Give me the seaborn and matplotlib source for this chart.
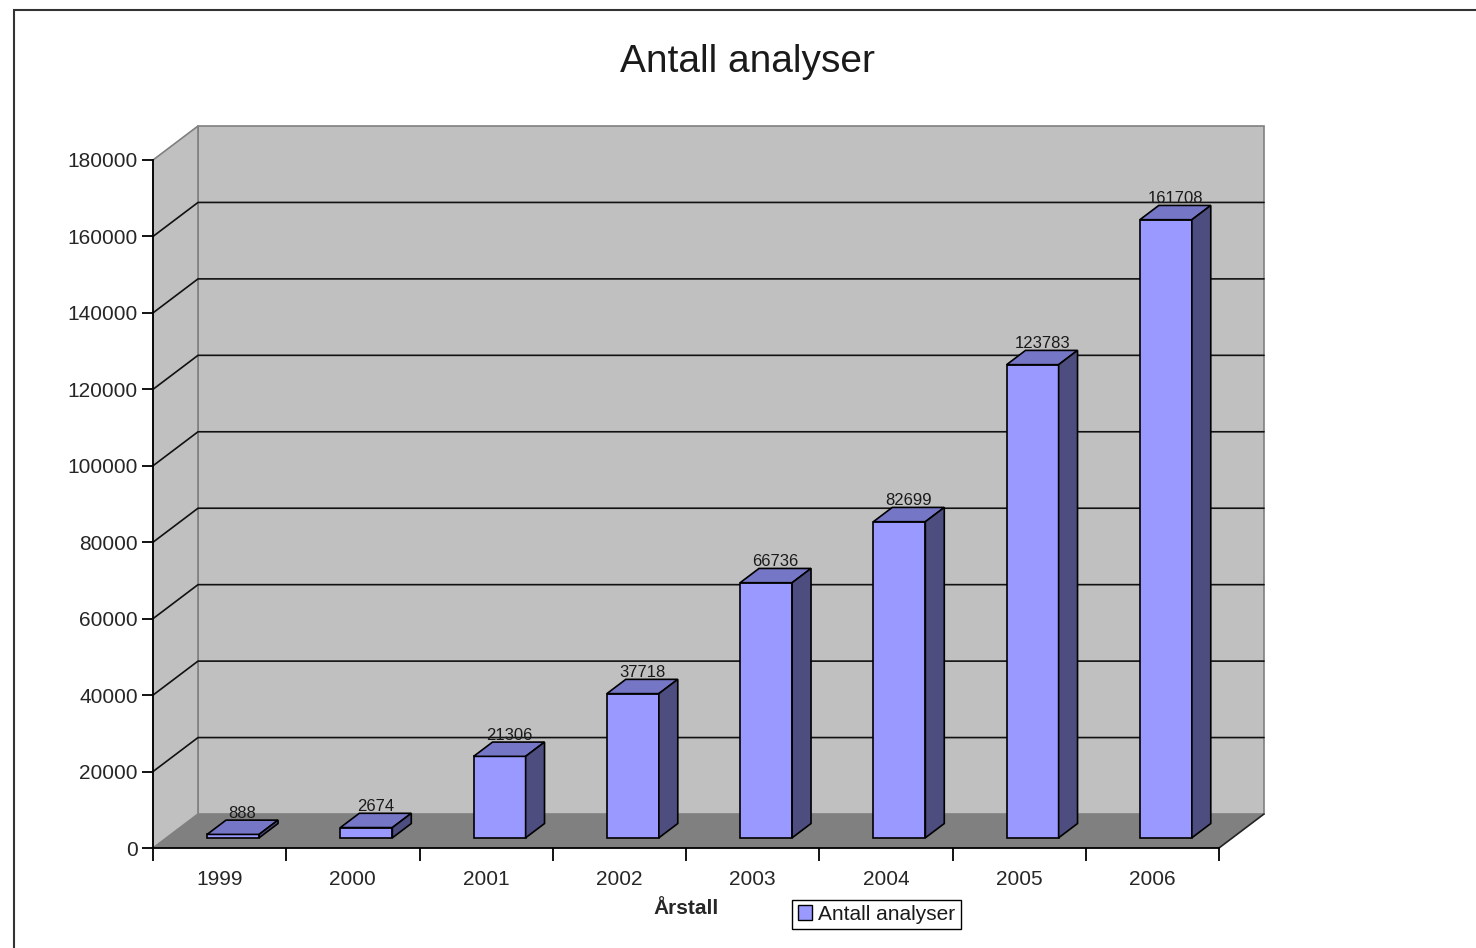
import matplotlib
matplotlib.use("Agg")
import matplotlib.pyplot as plt
from matplotlib.patches import Polygon, Rectangle, Patch
import seaborn as sns
import pandas as pd

years = ["1999", "2000", "2001", "2002", "2003", "2004", "2005", "2006"]
counts = [888, 2674, 21306, 37718, 66736, 82699, 123783, 161708]
y_ticks = list(range(0, 180001, 20000))
title = "Antall analyser"
x_label = "Årstall"
series_name = "Antall analyser"

df = pd.DataFrame({"year": years, "count": counts})

sns.set_theme(style="white")
plt.rcParams["font.family"] = ["Liberation Sans", "DejaVu Sans"]
plt.rcParams["text.color"] = "#1a1a1a"

fig = plt.figure(figsize=(14.76, 9.48), dpi=100)
ax = fig.add_axes([153 / 1476, 100 / 948, 1066 / 1476, 688 / 948])
ax.patch.set_visible(False)

ymax = 180000
ax.set_xlim(-0.5, len(years) - 0.5)
ax.set_ylim(0, ymax)

# depth of the fake 3D box in data units
dx = 45 / 133.25
dy = 34 * ymax / 688
x0, x1 = -0.5, len(years) - 0.5

# walls and floor
wall = "#c0c0c0"
ax.add_patch(Polygon([(x0 + dx, dy), (x1 + dx, dy), (x1 + dx, ymax + dy), (x0 + dx, ymax + dy)],
                     closed=True, facecolor=wall, edgecolor="#808080", lw=1.2, zorder=0.5, clip_on=False))
ax.add_patch(Polygon([(x0, 0), (x0 + dx, dy), (x0 + dx, ymax + dy), (x0, ymax)],
                     closed=True, facecolor=wall, edgecolor="#808080", lw=1.2, zorder=0.5, clip_on=False))
for v in y_ticks[1:-1]:
    ax.plot([x0, x0 + dx, x1 + dx], [v, v + dy, v + dy], color="#111111", lw=1.2,
            zorder=0.6, clip_on=False)
ax.add_patch(Polygon([(x0, 0), (x1, 0), (x1 + dx, dy), (x0 + dx, dy)],
                     closed=True, facecolor="#808080", edgecolor="none", zorder=0.7, clip_on=False))
ax.plot([x1, x1 + dx], [0, dy], color="#222222", lw=1.2, zorder=0.8, clip_on=False)

# front faces of the bars
bar_w = 52 / 133.25
sns.barplot(data=df, x="year", y="count", color="#9999ff", saturation=1,
            edgecolor="black", linewidth=1.2, width=bar_w, ax=ax, zorder=2)

shift_x, shift_y = 0.3 * dx, 0.3 * dy
bdx, bdy = 0.42 * dx, 0.42 * dy
for bar, val in zip(ax.patches[-len(years):], counts):
    bar.set_x(bar.get_x() + shift_x)
    bar.set_y(shift_y)
    bar.set_clip_on(False)
    bx0 = bar.get_x()
    bx1 = bx0 + bar.get_width()
    top = shift_y + val
    ax.add_patch(Polygon([(bx0, top), (bx1, top), (bx1 + bdx, top + bdy), (bx0 + bdx, top + bdy)],
                         closed=True, facecolor="#7676c6", edgecolor="black", lw=1.2, zorder=2, clip_on=False))
    ax.add_patch(Polygon([(bx1, shift_y), (bx1 + bdx, shift_y + bdy), (bx1 + bdx, top + bdy), (bx1, top)],
                         closed=True, facecolor="#4d4d80", edgecolor="black", lw=1.2, zorder=2, clip_on=False))
    ax.annotate(str(val), ((bx0 + bx1) / 2 + bdx / 2, top + bdy), xytext=(0, -0.5),
                textcoords="offset points", ha="center", va="bottom", fontsize=12,
                fontweight="medium", zorder=3)

# axes styling
for side in ["top", "right"]:
    ax.spines[side].set_visible(False)
for side in ["left", "bottom"]:
    ax.spines[side].set_color("black")
    ax.spines[side].set_linewidth(1.3)
ax.set_yticks(y_ticks)
ax.set_yticklabels([str(v) for v in y_ticks])
ax.tick_params(axis="y", direction="out", length=8, width=1.3, color="black", pad=3, labelsize=15, left=True)
ax.set_xticks(range(len(years)))
ax.set_xticklabels(years)
ax.tick_params(axis="x", length=0, pad=16, labelsize=15)
ax.set_xticks([i - 0.5 for i in range(len(years) + 1)], minor=True)
ax.tick_params(axis="x", which="minor", direction="out", length=9, width=1.3, color="black", bottom=True)
ax.set_ylabel("")
ax.set_xlabel(x_label, fontsize=15, fontweight="bold", labelpad=7)

fig.text(748 / 1476, 1 - 62 / 948, title, ha="center", va="center", fontsize=28)

handle = Patch(facecolor="#9999ff", edgecolor="black", lw=1)
fig.legend([handle], [series_name], loc="center", bbox_to_anchor=(876.5 / 1476, 1 - 914.5 / 948),
           fontsize=15, frameon=True, fancybox=False, edgecolor="black", framealpha=1,
           handlelength=0.7, handleheight=0.7, handletextpad=0.3, borderpad=0.25, borderaxespad=0)

fig.add_artist(Rectangle((14 / 1476, -0.1), 1.2, 1.1 - 10 / 948, transform=fig.transFigure,
                         fill=False, edgecolor="#333333", lw=1.5))

fig.savefig("out.png", dpi=100)
